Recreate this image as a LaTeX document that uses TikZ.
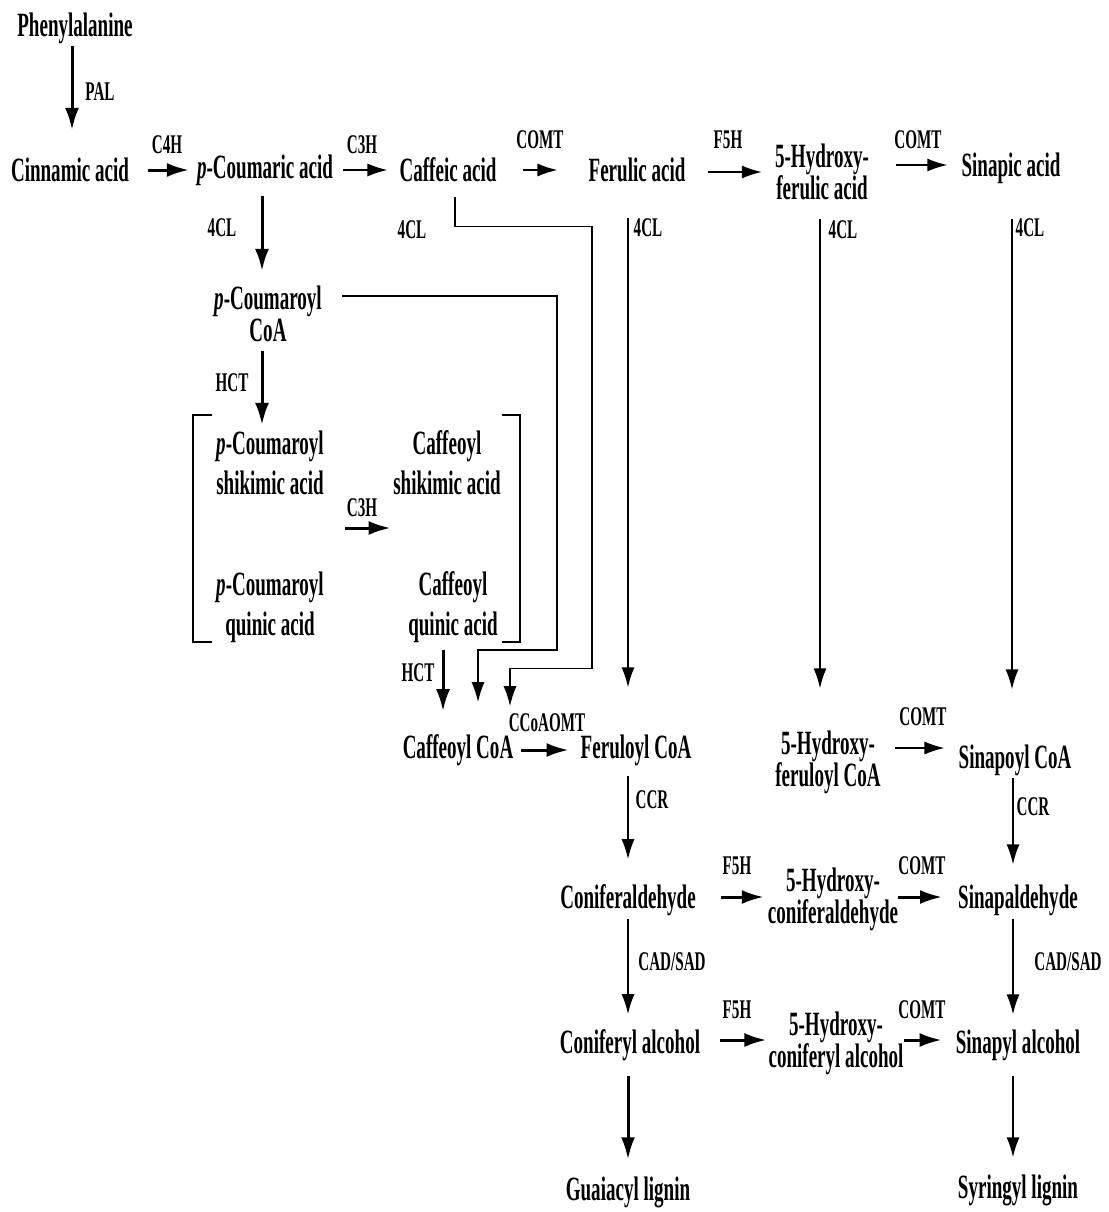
\documentclass[tikz,border=0pt]{standalone}
\usepackage{fontspec}
\setmainfont{Liberation Serif}[FakeStretch=0.56]
\usetikzlibrary{arrows.meta,calc}
\begin{document}
\begin{tikzpicture}[x=1pt,y=-1pt,
 cmp/.style={font=\fontsize{34}{32}\selectfont\bfseries, inner sep=0pt, align=center},
 enz/.style={font=\fontsize{27}{28}\selectfont\bfseries, inner sep=0pt},
 arr/.style={line width=3pt, -{Latex[length=22pt,width=14pt]}},
 tarr/.style={line width=1.5pt, -{Latex[length=20pt,width=13pt]}},
 ln/.style={line width=1.5pt},
]
\useasboundingbox[fill=white] (0,0) rectangle (1108,1212);

% compounds
\node[cmp] (phe) at (75,28) {Phenylalanine};
\node[cmp] (cin) at (70,170) {Cinnamic acid};
\node[cmp] (pcou) at (265,170) {\textit{p}-Coumaric acid};
\node[cmp] (caf) at (448,170) {Caffeic acid};
\node[cmp] (fer) at (637,170) {Ferulic acid};
\node[cmp] (hfer) at (822,172) {5-Hydroxy-\\ferulic acid};
\node[cmp] (sina) at (1011,168) {Sinapic acid};
\node[cmp] (pcoa) at (268,314) {\textit{p}-Coumaroyl\\CoA};
\node[cmp] (pcs) at (270,463) {\textit{p}-Coumaroyl\\[8pt]shikimic acid};
\node[cmp] (cs) at (447,463) {Caffeoyl\\[8pt]shikimic acid};
\node[cmp] (pcq) at (270,607) {\textit{p}-Coumaroyl\\[8pt]quinic acid};
\node[cmp] (cq) at (453,607) {Caffeoyl\\[8pt]quinic acid};
\node[cmp] (cafcoa) at (458,750) {Caffeoyl CoA};
\node[cmp] (fercoa) at (636,750) {Feruloyl CoA};
\node[cmp] (hfercoa) at (828,762) {5-Hydroxy-\\feruloyl CoA};
\node[cmp] (sincoa) at (1015,760) {Sinapoyl CoA};
\node[cmp] (conald) at (628,900) {Coniferaldehyde};
\node[cmp] (hconald) at (833,899) {5-Hydroxy-\\coniferaldehyde};
\node[cmp] (sinald) at (1018,900) {Sinapaldehyde};
\node[cmp] (conalc) at (630,1045) {Coniferyl alcohol};
\node[cmp] (hconalc) at (836,1043) {5-Hydroxy-\\coniferyl alcohol};
\node[cmp] (sinalc) at (1018,1045) {Sinapyl alcohol};
\node[cmp] (glig) at (628,1192) {Guaiacyl lignin};
\node[cmp] (slig) at (1018,1190) {Syringyl lignin};

% enzymes
\node[enz] (e1) at (100,92) {PAL};
\node[enz] (e2) at (167,145) {C4H};
\node[enz] (e3) at (362,145) {C3H};
\node[enz] (e4) at (540,140) {COMT};
\node[enz] (e5) at (728,140) {F5H};
\node[enz] (e6) at (918,140) {COMT};
\node[enz] (e7) at (222,228) {4CL};
\node[enz] (e8) at (412,230) {4CL};
\node[enz] (e9) at (648,228) {4CL};
\node[enz] (e10) at (843,230) {4CL};
\node[enz] (e11) at (1030,228) {4CL};
\node[enz] (e12) at (232,383) {HCT};
\node[enz] (e13) at (362,508) {C3H};
\node[enz] (e14) at (418,673) {HCT};
\node[enz] (e15) at (547,723) {CCoAOMT};
\node[enz] (e16) at (652,800) {CCR};
\node[enz] (e17) at (923,717) {COMT};
\node[enz] (e18) at (1033,807) {CCR};
\node[enz] (e19) at (737,866) {F5H};
\node[enz] (e20) at (922,866) {COMT};
\node[enz] (e21) at (672,962) {CAD/SAD};
\node[enz] (e22) at (1068,962) {CAD/SAD};
\node[enz] (e23) at (737,1010) {F5H};
\node[enz] (e24) at (922,1010) {COMT};

% brackets
\draw[ln] (212,415) -- (193,415) -- (193,642) -- (212,642);
\draw[ln] (502,415) -- (520,415) -- (520,642) -- (502,642);

% top row
\draw[arr, shorten <=2pt, shorten >=28pt] ([xshift=-3pt]phe.south) -- ([xshift=-3pt]phe.south |- cin.north);
\draw[arr, shorten <=19pt, shorten >=8pt] (cin.east) -- (pcou.west);
\draw[tarr, shorten <=10pt, shorten >=12pt] (pcou.east) -- (caf.west);
\draw[tarr, shorten <=26pt, shorten >=31pt] (caf.east) -- (fer.west);
\draw[tarr, shorten <=22pt, shorten >=13pt] ([yshift=-2pt]fer.east) -- ([yshift=-2pt]fer.east -| hfer.west);
\draw[tarr, shorten <=27pt, shorten >=14pt] ([yshift=7pt]hfer.east) -- ([yshift=7pt]hfer.east -| sina.west);

% 4CL etc.
\draw[arr, shorten <=10pt, shorten >=15pt] ([xshift=-3pt]pcou.south) -- ([xshift=-3pt]pcou.south |- pcoa.north);
\draw[tarr, shorten <=36pt, shorten >=47pt] ([xshift=-9pt]fer.south) -- ([xshift=-9pt]fer.south |- fercoa.north);
\draw[tarr, shorten <=19pt, shorten >=42pt] ([xshift=-2pt]hfer.south) -- ([xshift=-2pt]hfer.south |- hfercoa.north);
\draw[tarr, shorten <=35pt, shorten >=55pt] ([xshift=1pt]sina.south) -- ([xshift=1pt]sina.south |- sincoa.north);
\draw[arr, shorten <=9pt, shorten >=6pt] ([xshift=-6pt]pcoa.south) -- ([xshift=-6pt]pcoa.south |- pcs.north);
\draw[arr, shorten <=21pt, shorten >=10pt] ([yshift=7pt]$(pcs.east)!0.5!(pcq.east)$) -- ([yshift=7pt]$(cs.west)!0.5!(cq.west)$);
\draw[arr, shorten <=7pt, shorten >=23pt] ([xshift=-10pt]cq.south) -- ([xshift=-10pt]cq.south |- cafcoa.north);

% routed connectors
\draw[tarr] ([xshift=20pt,yshift=18pt]pcoa.east) -- ++(215,0) -- ++(0,354) -| ([xshift=20pt,yshift=32pt]cafcoa.north);
\draw[tarr] ([xshift=7pt,yshift=-15pt]caf.south) -- ++(0,29) -- ++(137,0) -- ++(0,442) -| ([xshift=52pt,yshift=28pt]cafcoa.north);

% CoA row
\draw[arr, shorten <=8pt, shorten >=12pt] (cafcoa.east) -- (fercoa.west);
\draw[tarr, shorten <=14pt, shorten >=14pt] ([yshift=14pt]hfercoa.east) -- ([yshift=14pt]hfercoa.east -| sincoa.west);
\draw[tarr, shorten <=10pt, shorten >=25pt] ([xshift=-8pt]fercoa.south) -- ([xshift=-8pt]fercoa.south |- conald.north);
\draw[tarr, shorten <=2pt, shorten >=20pt] ([xshift=-2pt]sincoa.south) -- ([xshift=-2pt]sincoa.south |- sinald.north);

% aldehyde row
\draw[arr, shorten <=25pt, shorten >=4pt] ([yshift=3pt]conald.east) -- ([yshift=3pt]conald.east -| hconald.west);
\draw[arr, shorten <=0pt, shorten >=16pt] ([yshift=2pt]hconald.east) -- ([yshift=2pt]hconald.east -| sinald.west);
\draw[tarr, shorten <=3pt, shorten >=15pt] (conald.south) -- (conald.south |- conalc.north);
\draw[tarr, shorten <=3pt, shorten >=15pt] ([xshift=-5pt]sinald.south) -- ([xshift=-5pt]sinald.south |- sinalc.north);

% alcohol row
\draw[arr, shorten <=20pt, shorten >=2pt] ([yshift=5pt]conalc.east) -- ([yshift=5pt]conalc.east -| hconalc.west);
\draw[arr, shorten <=0pt, shorten >=14pt] ([yshift=3pt]hconalc.east) -- ([yshift=3pt]hconalc.east -| sinalc.west);
\draw[arr, shorten <=15pt, shorten >=17pt] ([xshift=-2pt]conalc.south) -- ([xshift=-2pt]conalc.south |- glig.north);
\draw[tarr, shorten <=15pt, shorten >=17pt] ([xshift=-5pt]sinalc.south) -- ([xshift=-5pt]sinalc.south |- slig.north);
\end{tikzpicture}
\end{document}
